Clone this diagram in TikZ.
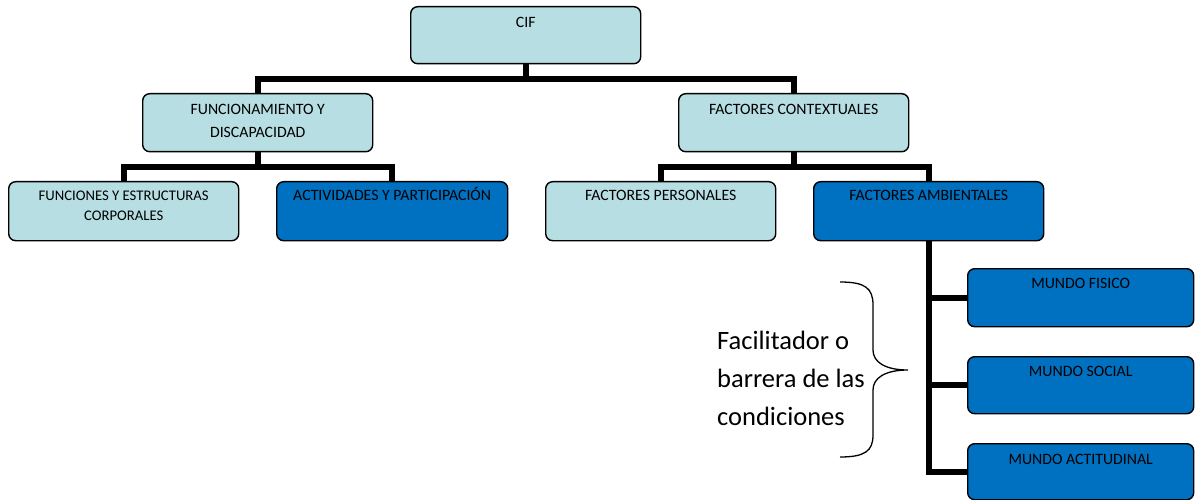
\documentclass[tikz,border=0pt]{standalone}
\usepackage{fontspec}
\setmainfont{Carlito}
\definecolor{lb}{RGB}{183,222,226}
\definecolor{db}{RGB}{0,112,192}
\begin{document}
\begin{tikzpicture}[x=1pt,y=-1pt,
  box/.style={draw=black, line width=1.4pt, rounded corners=7pt, anchor=north west,
    minimum width=230pt, minimum height=58pt, inner sep=0pt},
  lbox/.style={box, fill=lb},
  dbox/.style={box, fill=db},
  conn/.style={line width=6pt, line join=miter},
  lbl/.style={anchor=north, align=center, inner sep=0pt, text=black,
    font=\fontsize{15.8}{23}\selectfont},
  slbl/.style={lbl, font=\fontsize{14.7}{20}\selectfont},
  note/.style={anchor=west, align=left, inner sep=0pt, text=black,
    font=\fontsize{26.5}{38}\selectfont}]
\useasboundingbox (0,0) rectangle (1195,500);

\coordinate (bar1) at (678,79);
\coordinate (bar2) at (0,167);
\node[lbox, minimum height=57pt] (cif) at (410,6) {};
\node[lbox] (func) at (142,93) {};
\node[lbox] (fc) at (678,93) {};
\node[lbox, minimum height=59pt] (fye) at (8,181) {};
\node[dbox, minimum width=231pt, minimum height=59pt] (act) at (276,181) {};
\node[lbox, minimum height=59pt] (fp) at (545,181) {};
\node[dbox, minimum height=59pt] (fa) at (813,181) {};
\node[dbox, minimum width=226pt] (mf) at (967,268) {};
\node[dbox, minimum width=226pt, minimum height=57pt] (ms) at (967,356) {};
\node[dbox, minimum width=226pt, minimum height=56pt] (ma) at (967,443) {};

% connectors
\draw[conn] (cif.south) -- (cif.south |- bar1);
\draw[conn] (func.north) |- (fc.north |- bar1) -- (fc.north);
\draw[conn] (func.south) -- (func.south |- bar2);
\draw[conn] (fye.north) |- (act.north |- bar2) -- (act.north);
\draw[conn] (fc.south) -- (fc.south |- bar2);
\draw[conn] (fp.north) |- (fa.north |- bar2) -- (fa.north);
\draw[conn] (fa.south) |- (ma.west);
\draw[conn] (fa.south |- mf.west) -- (mf.west);
\draw[conn] (fa.south |- ms.west) -- (ms.west);

% labels
\node[lbl] (tcif) at ([yshift=-5pt]cif.north) {\strut CIF};
\node[lbl] (tfunc) at ([yshift=-5pt]func.north) {\strut FUNCIONAMIENTO Y\\DISCAPACIDAD};
\node[lbl] (tfc) at ([yshift=-5pt]fc.north) {\strut FACTORES CONTEXTUALES};
\node[slbl] (tfye) at ([yshift=-5pt]fye.north) {\strut FUNCIONES Y ESTRUCTURAS\\CORPORALES};
\node[lbl] (tact) at ([yshift=-3pt]act.north) {\strut ACTIVIDADES Y PARTICIPACIÓN};
\node[lbl] (tfp) at ([yshift=-3pt]fp.north) {\strut FACTORES PERSONALES};
\node[lbl] (tfa) at ([yshift=-3pt]fa.north) {\strut FACTORES AMBIENTALES};
\node[lbl] (tmf) at ([yshift=-4pt]mf.north) {\strut MUNDO FISICO};
\node[lbl] (tms) at ([yshift=-4pt]ms.north) {\strut MUNDO SOCIAL};
\node[lbl] (tma) at ([yshift=-5pt]ma.north) {\strut MUNDO ACTITUDINAL};

% brace and note
\draw[line width=1.3pt] (840,282) .. controls (865,282) and (873,288) .. (873,305)
  -- (873,350) .. controls (873,362) and (885,370) .. (908,370)
  .. controls (885,370) and (873,378) .. (873,390)
  -- (873,435) .. controls (873,451) and (865,457) .. (840,457);
\node[note] (fac) at (717,378) {Facilitador o\\barrera de las\\condiciones};
\end{tikzpicture}
\end{document}
